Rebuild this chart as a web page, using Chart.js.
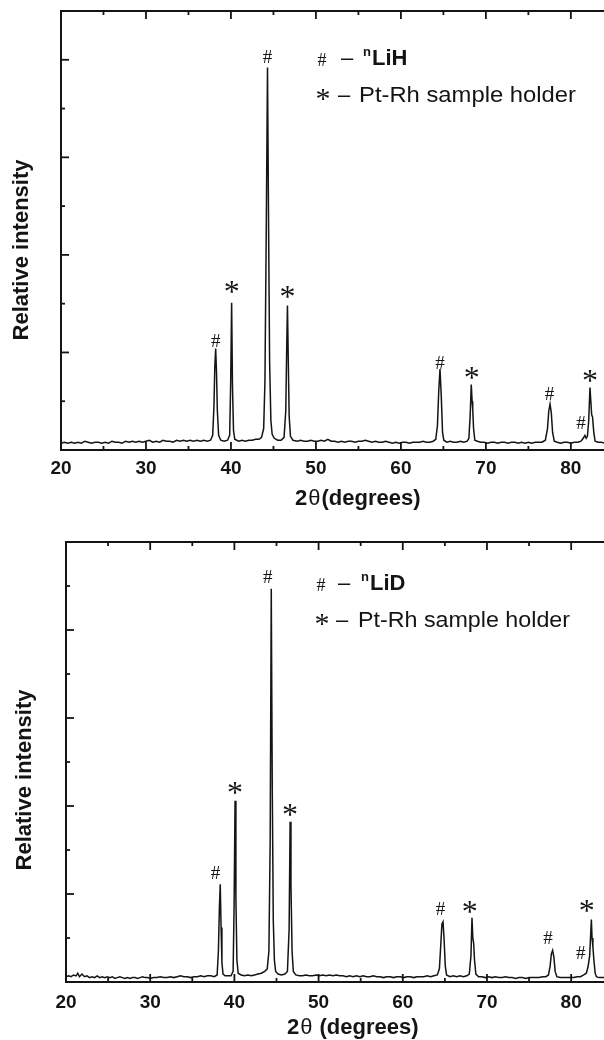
<!DOCTYPE html>
<html><head><meta charset="utf-8">
<script src="https://cdn.jsdelivr.net/npm/chart.js@4.4.1/dist/chart.umd.min.js"></script>
<style>
html,body{margin:0;padding:0;background:#fff;}
#wrap{position:relative;width:604px;height:1040px;overflow:hidden;background:#fff;}
.panel{position:absolute;left:0;width:604px;height:520px;}
canvas{display:block;}
</style></head><body>
<div id="wrap">
<div class="panel" style="top:0"><canvas id="c1" width="604" height="520"></canvas></div>
<div class="panel" style="top:520px"><canvas id="c2" width="604" height="520"></canvas></div>
</div>
<script>
// ---------- axis ticks ----------
const xTickLabels = [20, 30, 40, 50, 60, 70, 80];
const xMinorTicks = [25, 35, 45, 55, 65, 75];
const yMajorTop = [1, 2, 3, 4];
const yMinorTop = [0.5, 1.5, 2.5, 3.5];
const yMajorBottom = [1, 2, 3, 4];
const yMinorBottom = [0.5, 1.5, 2.5, 3.5, 4.5];

// ---------- LiH pattern (2θ, relative intensity) ----------
const lihTheta = [20.0,20.4,20.8,21.2,21.6,22.0,22.4,22.8,23.2,23.6,24.0,24.4,24.8,25.2,25.6,26.0,26.4,26.8,27.2,27.6,28.0,28.4,28.8,29.2,29.6,30.0,30.4,30.8,31.2,31.6,32.0,32.4,32.8,33.2,33.6,34.0,34.4,34.8,35.2,35.6,36.0,36.4,36.8,37.2,37.6,37.85,38.0,38.1,38.2,38.3,38.4,38.55,38.8,39.2,39.6,39.85,39.97,40.08,40.18,40.3,40.45,40.9,41.3,41.7,42.1,42.5,42.9,43.3,43.6,43.85,44.0,44.15,44.3,44.42,44.55,44.7,44.85,45.1,45.5,45.9,46.25,46.45,46.57,46.65,46.75,46.85,47.0,47.3,47.8,48.2,48.6,49.0,49.4,49.8,50.2,50.6,51.0,51.4,51.8,52.2,52.6,53.0,53.4,53.8,54.2,54.6,55.0,55.4,55.8,56.2,56.6,57.0,57.4,57.8,58.2,58.6,59.0,59.4,59.8,60.2,60.6,61.0,61.4,61.8,62.2,62.6,63.0,63.4,63.8,64.1,64.3,64.45,64.6,64.75,64.9,65.05,65.4,65.8,66.2,66.6,67.0,67.4,67.8,68.0,68.15,68.28,68.38,68.45,68.55,68.7,69.0,69.4,69.8,70.2,70.6,71.0,71.4,71.8,72.2,72.6,73.0,73.4,73.8,74.2,74.6,75.0,75.4,75.8,76.2,76.6,77.0,77.25,77.4,77.55,77.7,77.85,78.05,78.4,78.8,79.2,79.6,80.0,80.4,80.8,81.2,81.45,81.65,81.8,81.95,82.1,82.25,82.35,82.45,82.55,82.7,82.85,83.2,83.6,84.0];
const lihIntensity = [0.07,0.08,0.07,0.08,0.07,0.08,0.07,0.09,0.08,0.07,0.08,0.08,0.07,0.08,0.07,0.09,0.08,0.08,0.07,0.09,0.08,0.09,0.08,0.09,0.08,0.09,0.10,0.08,0.09,0.08,0.10,0.09,0.09,0.08,0.10,0.09,0.10,0.09,0.10,0.09,0.10,0.09,0.10,0.09,0.10,0.15,0.45,0.85,1.04,0.80,0.40,0.15,0.10,0.09,0.10,0.15,0.70,1.51,0.65,0.20,0.11,0.09,0.10,0.09,0.10,0.10,0.11,0.11,0.13,0.22,0.70,2.20,3.92,2.40,0.90,0.30,0.16,0.12,0.10,0.10,0.13,0.40,1.10,1.48,0.90,0.35,0.14,0.10,0.09,0.10,0.09,0.09,0.10,0.09,0.09,0.10,0.09,0.11,0.09,0.09,0.08,0.09,0.08,0.09,0.09,0.08,0.09,0.09,0.10,0.09,0.08,0.09,0.08,0.08,0.09,0.08,0.07,0.08,0.07,0.08,0.08,0.07,0.08,0.08,0.08,0.09,0.08,0.08,0.09,0.11,0.25,0.60,0.83,0.55,0.18,0.10,0.08,0.09,0.08,0.08,0.09,0.08,0.09,0.12,0.35,0.67,0.50,0.42,0.22,0.10,0.09,0.08,0.08,0.07,0.08,0.08,0.07,0.08,0.08,0.07,0.08,0.08,0.07,0.08,0.07,0.08,0.07,0.08,0.08,0.08,0.10,0.22,0.40,0.47,0.38,0.18,0.09,0.08,0.07,0.08,0.08,0.07,0.08,0.08,0.09,0.12,0.15,0.12,0.14,0.30,0.64,0.50,0.36,0.34,0.18,0.09,0.08,0.08,0.07];

// ---------- LiD pattern ----------
const lidTheta = [20.0,20.3,20.6,20.9,21.2,21.4,21.6,21.9,22.2,22.5,22.8,23.1,23.4,23.7,24.0,24.3,24.6,24.9,25.2,25.5,25.8,26.1,26.4,26.7,27.0,27.3,27.6,27.9,28.2,28.5,28.8,29.1,29.4,29.7,30.0,30.4,30.8,31.2,31.6,32.0,32.4,32.8,33.2,33.6,34.0,34.4,34.8,35.2,35.6,36.0,36.4,36.8,37.2,37.6,37.95,38.1,38.22,38.32,38.42,38.52,38.65,38.9,39.3,39.6,39.85,39.97,40.08,40.18,40.3,40.45,40.8,41.2,41.6,42.0,42.4,42.8,43.2,43.6,43.9,44.1,44.25,44.38,44.5,44.62,44.75,44.9,45.2,45.6,46.0,46.3,46.5,46.62,46.72,46.85,47.0,47.3,47.7,48.1,48.5,48.9,49.3,49.7,50.1,50.5,50.9,51.3,51.7,52.1,52.5,52.9,53.3,53.7,54.1,54.5,54.9,55.3,55.7,56.1,56.5,56.9,57.3,57.7,58.1,58.5,58.9,59.3,59.7,60.1,60.5,60.9,61.3,61.7,62.1,62.5,62.9,63.3,63.7,64.1,64.35,64.5,64.65,64.78,64.9,65.05,65.2,65.6,66.0,66.4,66.8,67.2,67.6,67.9,68.1,68.22,68.32,68.42,68.52,68.68,69.0,69.4,69.8,70.2,70.6,71.0,71.4,71.8,72.2,72.6,73.0,73.4,73.8,74.2,74.6,75.0,75.4,75.8,76.2,76.6,77.0,77.3,77.5,77.65,77.8,77.95,78.1,78.3,78.7,79.1,79.5,79.9,80.3,80.7,81.1,81.5,81.8,82.0,82.2,82.4,82.48,82.58,82.7,82.85,83.0,83.3,83.7,84.0];
const lidIntensity = [0.06,0.07,0.06,0.08,0.07,0.10,0.06,0.09,0.06,0.07,0.05,0.06,0.05,0.07,0.05,0.06,0.05,0.06,0.05,0.06,0.04,0.05,0.06,0.05,0.04,0.05,0.04,0.05,0.05,0.04,0.05,0.06,0.05,0.05,0.04,0.05,0.05,0.06,0.05,0.05,0.06,0.05,0.06,0.07,0.06,0.06,0.05,0.06,0.06,0.07,0.06,0.07,0.07,0.06,0.08,0.35,0.85,1.11,0.62,0.22,0.09,0.07,0.07,0.07,0.12,0.90,2.06,0.95,0.25,0.10,0.08,0.07,0.08,0.07,0.08,0.09,0.10,0.12,0.15,0.35,1.60,4.47,2.20,0.70,0.25,0.12,0.09,0.08,0.09,0.12,0.60,1.82,1.10,0.35,0.12,0.08,0.07,0.07,0.08,0.07,0.07,0.08,0.07,0.08,0.07,0.08,0.07,0.08,0.07,0.07,0.06,0.07,0.06,0.07,0.06,0.07,0.06,0.06,0.07,0.06,0.06,0.05,0.06,0.06,0.05,0.06,0.06,0.05,0.06,0.06,0.05,0.06,0.06,0.06,0.07,0.06,0.07,0.08,0.15,0.40,0.66,0.685,0.50,0.18,0.08,0.06,0.07,0.06,0.07,0.06,0.07,0.09,0.30,0.73,0.50,0.44,0.25,0.09,0.06,0.06,0.05,0.06,0.05,0.06,0.05,0.05,0.06,0.05,0.05,0.04,0.05,0.05,0.04,0.05,0.05,0.05,0.05,0.06,0.06,0.08,0.18,0.32,0.36,0.28,0.12,0.06,0.05,0.05,0.05,0.05,0.05,0.06,0.06,0.08,0.10,0.17,0.30,0.71,0.50,0.40,0.25,0.10,0.06,0.05,0.05,0.05];

// ---------- peak markers ----------
const lihMarkTheta = [38.2, 40.08, 44.3, 46.65, 64.6, 68.35, 77.5, 81.2, 82.25];
const lihMarkIntensity = [1.12, 1.67, 4.03, 1.62, 0.90, 0.79, 0.58, 0.28, 0.76];
const lihMarkSymbol = ['#', '*', '#', '*', '#', '*', '#', '#', '*'];
const lidMarkTheta = [37.75, 40.08, 43.96, 46.6, 64.48, 67.96, 77.25, 81.13, 81.84];
const lidMarkIntensity = [1.24, 2.20, 4.61, 1.95, 0.83, 0.85, 0.51, 0.34, 0.86];
const lidMarkSymbol = ['#', '*', '#', '*', '#', '*', '#', '#', '*'];

// ---------- texts ----------
const yTitle = 'Relative intensity';
const lihName = 'LiH', lidName = 'LiD', isoMark = 'n';
const holderText = 'Pt-Rh sample holder';

const INK = '#141414';
const SANS = '"Liberation Sans", Arial, Helvetica, sans-serif';
const SERIF = '"Liberation Serif", "Times New Roman", serif';

function centeredSymbol(ctx, sym, cx, cy, font) {
  ctx.font = font;
  ctx.textAlign = 'center'; ctx.textBaseline = 'alphabetic';
  const m = ctx.measureText(sym);
  const base = cy + (m.actualBoundingBoxAscent - m.actualBoundingBoxDescent) / 2;
  ctx.fillText(sym, cx, base);
}

const decor = {
  id: 'decor',
  afterDraw(chart, args, o) {
    const ctx = chart.ctx, xs = chart.scales.x, ys = chart.scales.y, ca = chart.chartArea;
    ctx.save();
    ctx.strokeStyle = INK; ctx.fillStyle = INK; ctx.lineWidth = 1.8;
    const seg = (x1, y1, x2, y2) => { ctx.beginPath(); ctx.moveTo(x1, y1); ctx.lineTo(x2, y2); ctx.stroke(); };
    xTickLabels.forEach(v => { const p = xs.getPixelForValue(v); seg(p, ca.bottom, p, ca.bottom - 8); seg(p, ca.top, p, ca.top + 8); });
    xMinorTicks.forEach(v => { const p = xs.getPixelForValue(v); seg(p, ca.bottom, p, ca.bottom - 4); seg(p, ca.top, p, ca.top + 4); });
    o.yMajor.forEach(v => { const p = ys.getPixelForValue(v); seg(ca.left, p, ca.left + 8, p); });
    o.yMinor.forEach(v => { const p = ys.getPixelForValue(v); seg(ca.left, p, ca.left + 4, p); });

    // peak markers
    o.markTheta.forEach((t, i) => {
      const px = xs.getPixelForValue(t), py = ys.getPixelForValue(o.markInt[i]);
      if (o.markSym[i] === '#') centeredSymbol(ctx, '#', px, py, '19px ' + SERIF);
      else centeredSymbol(ctx, '*', px, py, '32px ' + SERIF);
    });

    // y title
    ctx.save();
    ctx.translate(o.yt[0], o.yt[1]); ctx.rotate(-Math.PI / 2);
    ctx.font = 'bold 22px ' + SANS; ctx.textAlign = 'center'; ctx.textBaseline = 'middle';
    ctx.fillText(yTitle, 0, 0);
    ctx.restore();

    // x title
    ctx.textAlign = 'left'; ctx.textBaseline = 'alphabetic';
    let x = o.xt[0]; const by = o.xt[1];
    ctx.font = 'bold 22px ' + SANS; ctx.fillText('2', x, by); x += ctx.measureText('2').width + 1;
    ctx.font = '22px ' + SANS; ctx.fillText('\u03B8', x, by); x += ctx.measureText('\u03B8').width + o.xtGap;
    ctx.font = 'bold 22px ' + SANS; ctx.fillText('(degrees)', x, by);

    // legend
    const L = o.leg;
    centeredSymbol(ctx, '#', L.hashX, L.c1, '18px ' + SERIF);
    centeredSymbol(ctx, '*', L.hashX + 1, L.c2, '30px ' + SERIF);
    ctx.textAlign = 'left'; ctx.textBaseline = 'alphabetic';
    ctx.font = '22px ' + SANS; ctx.fillText('\u2013', L.dash1X, L.y1);
    ctx.font = 'bold 13px ' + SANS; ctx.fillText(isoMark, L.nX, L.y1 - 9);
    ctx.font = 'bold 22px ' + SANS; ctx.fillText(o.name, L.nX + 9, L.y1);
    ctx.font = '22px ' + SANS; ctx.fillText('\u2013', L.dash2X, L.y2);
    ctx.save();
    ctx.translate(L.textX, L.y2);
    const w = ctx.measureText(holderText).width;
    ctx.scale(L.textW / w, 1);
    ctx.fillText(holderText, 0, 0);
    ctx.restore();
    ctx.restore();
  }
};

function makeChart(id, theta, inten, c) {
  const pts = theta.map((t, i) => ({ x: t, y: inten[i] }));
  return new Chart(document.getElementById(id), {
    type: 'line',
    data: { datasets: [{ data: pts, borderColor: INK, borderWidth: 1.5, pointRadius: 0, fill: false, tension: 0 }] },
    options: {
      responsive: false, animation: false, devicePixelRatio: 1,
      layout: { padding: 0 },
      plugins: { legend: { display: false }, tooltip: { enabled: false }, decor: c.decor },
      scales: {
        x: {
          type: 'linear', position: 'bottom', min: 20, max: 83.9,
          afterBuildTicks: s => { s.ticks = xTickLabels.map(v => ({ value: v })); },
          ticks: { color: INK, font: { family: SANS, size: 19, weight: 'bold' }, padding: c.tickPad, maxRotation: 0, autoSkip: false },
          grid: { display: false, drawTicks: false },
          border: { display: true, color: INK, width: 2 },
          afterFit: s => { s.height = c.bottomH; }
        },
        xTop: {
          type: 'linear', position: 'top', min: 20, max: 83.9,
          ticks: { display: false }, grid: { display: false, drawTicks: false },
          border: { display: true, color: INK, width: 2 },
          afterFit: s => { s.height = c.topH; }
        },
        y: {
          type: 'linear', position: 'left', min: 0, max: c.yMax,
          ticks: { display: false }, grid: { display: false, drawTicks: false },
          border: { display: true, color: INK, width: 2 },
          afterFit: s => { s.width = c.leftW; }
        }
      }
    },
    plugins: [decor]
  });
}

makeChart('c1', lihTheta, lihIntensity, {
  yMax: 4.5, leftW: 61, topH: 11, bottomH: 70, tickPad: 7,
  decor: {
    yMajor: yMajorTop, yMinor: yMinorTop,
    markTheta: lihMarkTheta, markInt: lihMarkIntensity, markSym: lihMarkSymbol,
    yt: [22, 250], xt: [295, 505], xtGap: 1, name: lihName,
    leg: { hashX: 322, c1: 59, c2: 94, y1: 65, y2: 101.7, dash1X: 341, nX: 363, dash2X: 338, textX: 359, textW: 217 }
  }
});
makeChart('c2', lidTheta, lidIntensity, {
  yMax: 5, leftW: 66, topH: 22, bottomH: 58, tickPad: 9,
  decor: {
    yMajor: yMajorBottom, yMinor: yMinorBottom,
    markTheta: lidMarkTheta, markInt: lidMarkIntensity, markSym: lidMarkSymbol,
    yt: [25, 260], xt: [287, 514], xtGap: 7, name: lidName,
    leg: { hashX: 321, c1: 64, c2: 99, y1: 70, y2: 107, dash1X: 338, nX: 361, dash2X: 336, textX: 358, textW: 212 }
  }
});
</script>
</body></html>
